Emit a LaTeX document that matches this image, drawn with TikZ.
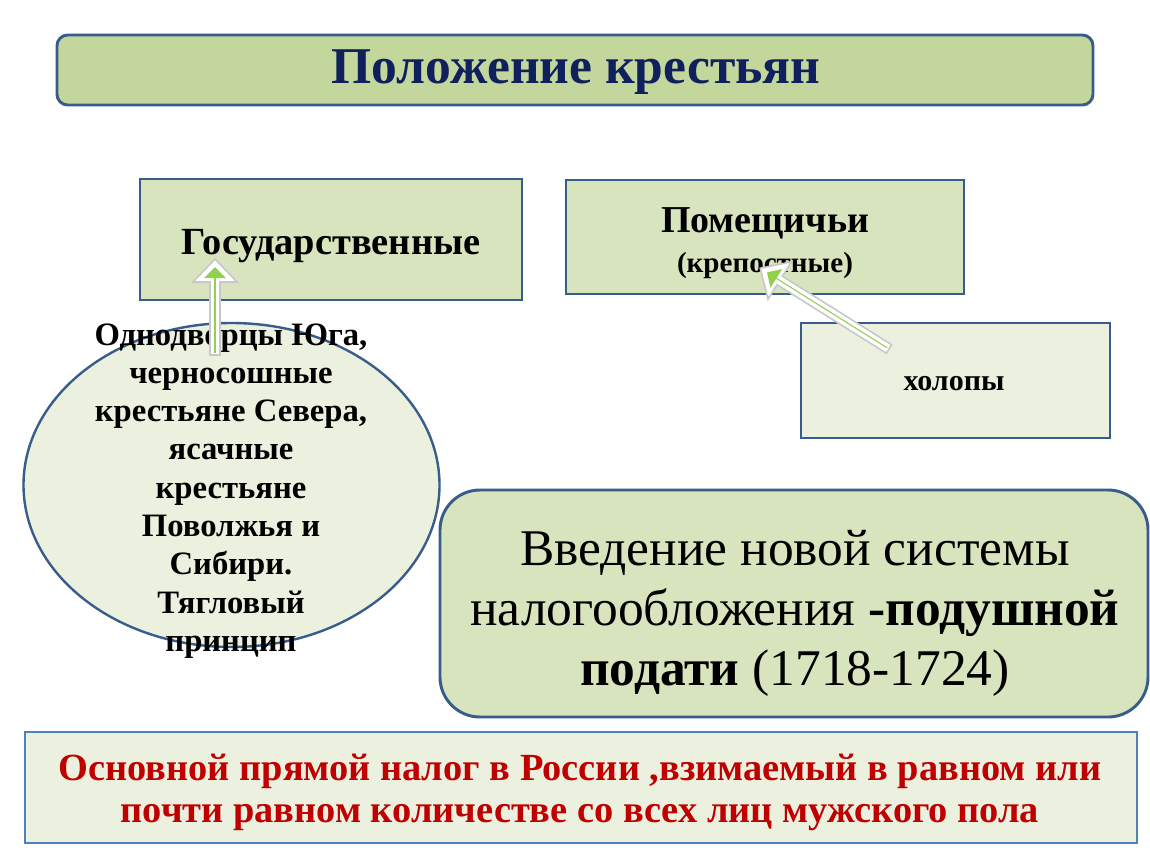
\documentclass[tikz,border=0pt]{standalone}
\usepackage{fontspec}
\setmainfont{Liberation Serif}
\usetikzlibrary{shapes.geometric}
\definecolor{bordblue}{HTML}{385D8A}
\definecolor{lightblue}{HTML}{4F81BD}
\definecolor{titlefill}{HTML}{C3D69B}
\definecolor{boxfill}{HTML}{D7E4BD}
\definecolor{palefill}{HTML}{EBF1DE}
\definecolor{navytext}{HTML}{10205C}
\definecolor{redtext}{HTML}{C00000}
\definecolor{arrowgreen}{HTML}{92D050}
\definecolor{shadowc}{HTML}{C8C8C8}
\newcommand\myfatarrow[3]{%
  \begin{scope}[shift={(#1)}, rotate=#2]
    \draw[shadowc, fill=white, line width=1.2pt, line join=miter]
      (0,-5) -- ({#3-23},-5) -- ({#3-23},-22) -- (#3,0) -- ({#3-23},22) -- ({#3-23},5) -- (0,5) -- cycle;
    \draw[arrowgreen, line width=0.8pt] (2,0) -- ({#3-16},0);
    \fill[arrowgreen] ({#3-19},-11) -- ({#3-8},0) -- ({#3-19},11) -- cycle;
  \end{scope}}
\tikzset{
  boxstyle/.style={rectangle, draw=bordblue, line width=2.2pt, fill=boxfill, inner sep=0pt},
  palebox/.style={boxstyle, fill=palefill},
  lbl/.style={inner sep=0pt, anchor=base, font=\bfseries},
}
\begin{document}
\begin{tikzpicture}[x=0.75pt, y=-0.75pt]
\useasboundingbox[fill=white] (0,0) rectangle (1150,864);

% title
\node[boxstyle, fill=titlefill, rounded corners=8pt, minimum width=777pt, minimum height=52.5pt] (title) at (575,70) {};
\node[lbl, text=navytext, font=\bfseries\fontsize{38.7}{41}\selectfont] (titletext) at (576,83) {Положение крестьян};

% state peasants box
\node[boxstyle, minimum width=286.5pt, minimum height=90.75pt] (gos) at (331,239.5) {};
\node[lbl, font=\bfseries\fontsize{28.8}{31}\selectfont] (gostext) at (331,254) {Государственные};

% landlord peasants box
\node[boxstyle, minimum width=298.5pt, minimum height=85.5pt] (pom) at (765,237) {};
\node[lbl, font=\bfseries\fontsize{28.5}{31}\selectfont] (pomtext) at (765,232) {Помещичьи};
\node[lbl, font=\bfseries\fontsize{21.8}{24}\selectfont] (kreptext) at (765,272) {(крепостные)};

% serfs box
\node[palebox, minimum width=231.75pt, minimum height=86.25pt] (hol) at (955.5,380.5) {};
\node[lbl, font=\bfseries\fontsize{22.5}{24}\selectfont] (holtext) at (954,390) {холопы};

% ellipse
\node[ellipse, draw=bordblue, line width=1.8pt, fill=palefill, minimum width=312pt, minimum height=243pt, inner sep=0pt] (ell) at (231.5,485) {};
\foreach \t [count=\i] in {{Однодворцы Юга,}, {черносошные}, {крестьяне Севера,}, {ясачные}, {крестьяне}, {Поволжья и}, {Сибири.}, {Тягловый}, {принцип}}
  \node[lbl, font=\bfseries\fontsize{24.5}{28}\selectfont] (el\i) at (231,{345+38.3*(\i-1)}) {\t};

% main box
\node[boxstyle, rounded corners=30pt, minimum width=531pt, minimum height=170.25pt] (main) at (794,603.5) {};
\node[lbl, font=\fontsize{38.6}{41}\selectfont] (m1) at (795,565) {Введение новой системы};
\node[lbl, font=\fontsize{38.6}{41}\selectfont] (m2) at (795,625) {налогообложения \textbf{-подушной}};
\node[lbl, font=\fontsize{38.6}{41}\selectfont] (m3) at (795,685) {\textbf{подати} (1718-1724)};

% bottom box
\node[palebox, draw=lightblue, minimum width=834pt, minimum height=83.25pt] (def) at (581,787.5) {};
\node[lbl, text=redtext, font=\bfseries\fontsize{28.8}{31}\selectfont] (d1) at (580,780) {Основной прямой налог в России ,взимаемый в равном или};
\node[lbl, text=redtext, font=\bfseries\fontsize{28.8}{31}\selectfont] (d2) at (580,822) {почти равном количестве со всех лиц мужского пола};

% arrows
\coordinate (a1tail) at (215,355);
\coordinate (a2tail) at (889,349);
\myfatarrow{a1tail}{90}{96}
\myfatarrow{a2tail}{147.9}{152}
\end{tikzpicture}
\end{document}
